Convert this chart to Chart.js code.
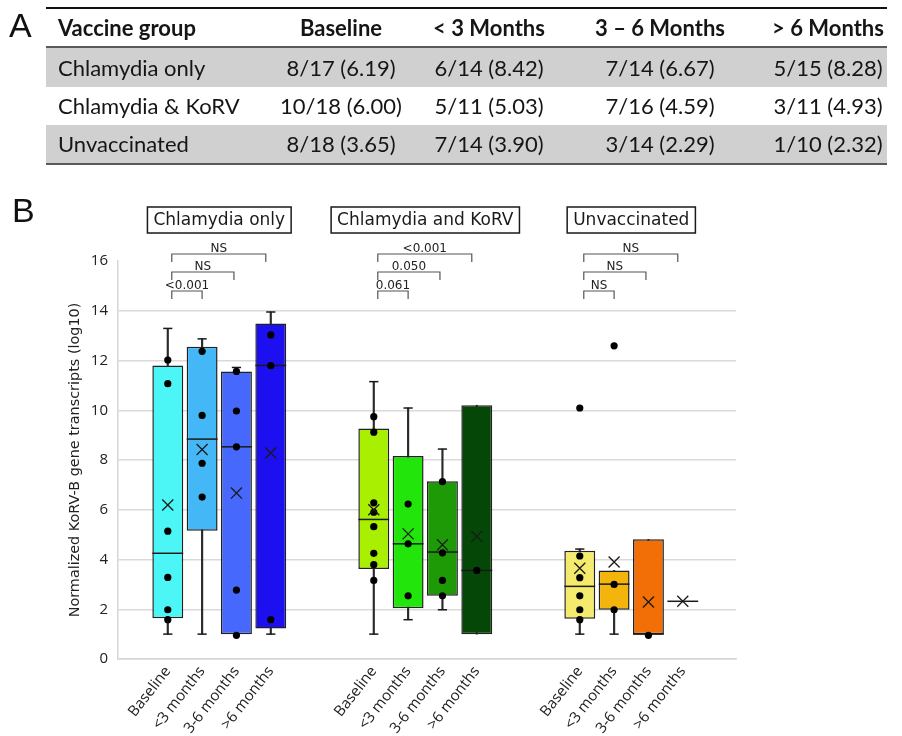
<!DOCTYPE html>
<html>
<head>
<meta charset="utf-8">
<script src="https://cdn.jsdelivr.net/npm/chart.js@4/dist/chart.umd.min.js"></script>
<style>
  html, body { margin: 0; padding: 0; background: #fff; }
  #page { position: relative; width: 902px; height: 736px; overflow: hidden; }
  #chartCanvas { position: absolute; left: 0; top: 0; }
  .letter { position: absolute; font-family: "Liberation Sans", Arial, sans-serif; font-size: 34px; color: #111; line-height: 1; }
  #tbl { position: absolute; left: 46px; top: 7px; width: 841px; height: 158px; font-family: Lato, "Open Sans", sans-serif; font-size: 22px; color: #151515; z-index: 2; }
  #tbl .rule { position: absolute; left: 0; width: 100%; }
  #tbl .band { position: absolute; left: 0; width: 100%; background: #d0d0d0; }
  #tbl .cell { position: absolute; white-space: nowrap; line-height: 1; }
</style>
</head>
<body>
<div id="page">
  <canvas id="chartCanvas" width="902" height="736"></canvas>
  <div class="letter" style="left:9px; top:8px;">A</div>
  <div class="letter" style="left:12px; top:193px;">B</div>
  <div id="tbl"></div>
</div>
<script>
// ---- data -------------------------------------------------------------
const groups = ['Chlamydia only', 'Chlamydia and KoRV', 'Unvaccinated'];
const tableGroups = ['Chlamydia only', 'Chlamydia & KoRV', 'Unvaccinated'];
const timepoints = ['Baseline', '<3 months', '3-6 months', '>6 months'];
const tableHeader = ['Vaccine group', 'Baseline', '< 3 Months', '3 \u2013 6 Months', '> 6 Months'];

// positive animals / animals sampled, and mean of positives (log10)
const positives = [[8, 6, 7, 5], [10, 5, 7, 3], [8, 7, 3, 1]];
const sampled   = [[17, 14, 14, 15], [18, 11, 16, 11], [18, 14, 14, 10]];
const means     = [[6.19, 8.42, 6.67, 8.28], [6.00, 5.03, 4.59, 4.93], [3.65, 3.90, 2.29, 2.32]];

// box-plot summaries (log10 transcripts)
const q1          = [[1.64, 5.16, 1.00, 1.23], [3.62, 2.04, 2.54, 1.00], [1.62, 1.98, 1.00, 2.32]];
const q3          = [[11.80, 12.55, 11.56, 13.49], [9.27, 8.16, 7.15, 10.20], [4.35, 3.56, 4.81, 2.32]];
const medians     = [[4.25, 8.84, 8.53, 11.80], [5.61, 4.63, 4.30, 3.56], [2.92, 3.01, 1.00, 2.32]];
const whiskerLow  = [[1.00, 1.00, 1.00, 1.00], [1.00, 1.58, 1.98, 1.00], [1.00, 1.00, 1.00, 2.32]];
const whiskerHigh = [[13.29, 12.87, 11.72, 13.95], [11.15, 10.09, 8.44, 10.20], [4.42, 3.56, 4.81, 2.32]];

// individual positive samples shown as dots
const samples = [
  [[12.02, 11.07, 5.14, 3.28, 1.98, 1.58], [12.37, 9.79, 7.87, 6.51], [11.56, 9.97, 8.53, 2.77, 0.95], [13.03, 11.79, 1.58]],
  [[9.74, 9.12, 6.28, 5.90, 5.32, 4.25, 3.79, 3.16], [6.23, 4.63, 2.54], [7.13, 4.27, 3.16, 2.54], [3.56]],
  [[10.09, 4.14, 3.27, 2.54, 1.98, 1.58], [12.59, 3.00, 1.98], [0.95], []]
];

// pairwise comparisons against baseline (p values)
const comparisons = [
  ['<0.001', 'NS', 'NS'],
  ['0.061', '0.050', '<0.001'],
  ['NS', 'NS', 'NS']
];

const boxColors = [
  ['#4cf6f6', '#44b7f6', '#4668fc', '#1c10f0'],
  ['#a9ef02', '#22e50c', '#1e9a07', '#044707'],
  ['#f3ea6e', '#f3b50c', '#f16f06', null]
];

const yTicks = [0, 2, 4, 6, 8, 10, 12, 14, 16];

// ---- table ------------------------------------------------------------
(function buildTable() {
  const tbl = document.getElementById('tbl');
  const colCenters = [null, 295, 443, 614, 782];
  const rowCenters = [20.5, 60.5, 99, 137];
  const add = (html) => tbl.insertAdjacentHTML('beforeend', html);
  add('<div class="rule" style="top:0;height:2px;background:#111"></div>');
  add('<div class="rule" style="top:39px;height:2px;background:#5a5a5a"></div>');
  add('<div class="band" style="top:41px;height:39px"></div>');
  add('<div class="band" style="top:118px;height:38px"></div>');
  add('<div class="rule" style="top:156px;height:2px;background:#5a5a5a"></div>');
  const cell = (text, col, row, bold) => {
    const x = col === 0 ? 'left:12px;' : `left:${colCenters[col]}px;transform:translate(-50%,-50%);`;
    const y = col === 0 ? `top:${rowCenters[row]}px;transform:translateY(-50%);` : `top:${rowCenters[row]}px;`;
    const el = document.createElement('div');
    el.className = 'cell';
    el.setAttribute('style', x + y + (bold ? 'font-weight:bold;' : ''));
    el.textContent = text;
    tbl.appendChild(el);
  };
  tableHeader.forEach((h, c) => cell(h, c, 0, true));
  tableGroups.forEach((name, g) => {
    cell(name, 0, g + 1, false);
    timepoints.forEach((_, t) => {
      cell(`${positives[g][t]}/${sampled[g][t]} (${means[g][t].toFixed(2)})`, t + 1, g + 1, false);
    });
  });
})();

// ---- chart ------------------------------------------------------------
const slotOf = (g, t) => 1 + g * 6 + t;
const slotLabels = {};
groups.forEach((_, g) => timepoints.forEach((tp, t) => { slotLabels[slotOf(g, t)] = tp; }));
const tickSlots = Object.keys(slotLabels).map(Number);

function collect(fn) {
  const out = [];
  groups.forEach((_, g) => timepoints.forEach((_, t) => {
    const v = fn(g, t);
    if (Array.isArray(v)) out.push(...v); else if (v) out.push(v);
  }));
  return out;
}

const boxData = collect((g, t) => boxColors[g][t] ? { x: slotOf(g, t), y: [q1[g][t], q3[g][t]] } : null);
const boxFill = collect((g, t) => boxColors[g][t]);
const stemData = collect((g, t) => whiskerHigh[g][t] > whiskerLow[g][t] ? { x: slotOf(g, t), y: [whiskerLow[g][t], whiskerHigh[g][t]] } : null);
const capData = collect((g, t) => {
  const caps = [];
  if (whiskerHigh[g][t] > q3[g][t]) caps.push({ x: slotOf(g, t), y: whiskerHigh[g][t] });
  if (whiskerLow[g][t] < q1[g][t]) caps.push({ x: slotOf(g, t), y: whiskerLow[g][t] });
  return caps;
});
const medianData = collect((g, t) => ({ x: slotOf(g, t), y: medians[g][t] }));
const meanData = collect((g, t) => ({ x: slotOf(g, t), y: means[g][t] }));
const sampleData = collect((g, t) => samples[g][t].map(v => ({ x: slotOf(g, t), y: v })));

const INK = '#1a1a1a';

const groupAnnotations = {
  id: 'groupAnnotations',
  afterDatasetsDraw(chart) {
    const { ctx, chartArea, scales: { x } } = chart;
    const top = chartArea.top;
    ctx.save();
    groups.forEach((name, g) => {
      const left = x.getPixelForValue(slotOf(g, 0));
      const right = x.getPixelForValue(slotOf(g, 3));
      const cx = (left + right) / 2;
      // boxed group title
      ctx.font = '17px "DejaVu Sans"';
      const w = ctx.measureText(name).width + 12;
      const by = top - 54;
      ctx.fillStyle = '#fff';
      ctx.fillRect(cx - w / 2, by, w, 26);
      ctx.strokeStyle = INK;
      ctx.lineWidth = 1.5;
      ctx.strokeRect(cx - w / 2, by, w, 26);
      ctx.fillStyle = INK;
      ctx.textAlign = 'center';
      ctx.textBaseline = 'middle';
      ctx.fillText(name, cx, by + 13.5);
      // significance brackets
      const levels = [top + 30, top + 11, top - 7];
      comparisons[g].forEach((label, k) => {
        const x0 = left + 4;
        const x1 = x.getPixelForValue(slotOf(g, k + 1)) + 2.5 - 2.5 * (k + 1);
        const yl = levels[k];
        ctx.strokeStyle = '#555';
        ctx.lineWidth = 1.2;
        ctx.beginPath();
        ctx.moveTo(x0, yl + 8);
        ctx.lineTo(x0, yl);
        ctx.lineTo(x1, yl);
        ctx.lineTo(x1, yl + 8);
        ctx.stroke();
        ctx.font = '12px "DejaVu Sans"';
        ctx.fillStyle = '#222';
        ctx.textBaseline = 'alphabetic';
        ctx.fillText(label, (x0 + x1) / 2, yl - 2);
      });
    });
    ctx.restore();
  }
};

new Chart(document.getElementById('chartCanvas'), {
  type: 'bar',
  data: {
    datasets: [
      {
        type: 'scatter', label: 'mean', data: meanData, order: 1,
        pointStyle: 'crossRot', pointRadius: 7.8, borderColor: INK, borderWidth: 1.3, backgroundColor: INK
      },
      {
        type: 'scatter', label: 'samples', data: sampleData, order: 2,
        pointStyle: 'circle', pointRadius: 3.6, borderWidth: 0, backgroundColor: '#000'
      },
      {
        type: 'scatter', label: 'median', data: medianData, order: 3,
        pointStyle: 'line', pointRadius: 15.4, borderColor: INK, borderWidth: 1.5
      },
      {
        type: 'scatter', label: 'whisker caps', data: capData, order: 3,
        pointStyle: 'line', pointRadius: 4.6, borderColor: INK, borderWidth: 1.5
      },
      {
        label: 'interquartile range', data: boxData, order: 4, grouped: false,
        backgroundColor: boxFill, borderColor: '#222', borderWidth: 1.5, borderSkipped: false,
        barPercentage: 0.9, categoryPercentage: 1
      },
      {
        label: 'whiskers', data: stemData, order: 5, grouped: false,
        backgroundColor: '#2a2a2a', borderWidth: 0, barThickness: 1.5
      }
    ]
  },
  options: {
    responsive: false,
    devicePixelRatio: 1,
    animation: false,
    events: [],
    layout: { padding: { left: 60, right: 166, top: 261, bottom: 0 } },
    plugins: { legend: { display: false }, tooltip: { enabled: false } },
    scales: {
      x: {
        type: 'linear', min: -0.45, max: 17.55, offset: false,
        grid: { display: false, drawTicks: false, offset: false },
        border: { color: '#d6d6d6', width: 1.5 },
        afterBuildTicks(scale) { scale.ticks = tickSlots.map(v => ({ value: v })); },
        afterFit(scale) { scale.height = 77; },
        ticks: {
          autoSkip: false, minRotation: 52, maxRotation: 52, padding: 4,
          font: { family: '"Open Sans"', size: 15 }, color: '#222',
          callback: (v) => slotLabels[v] || ''
        }
      },
      y: {
        min: 0, max: 16,
        afterBuildTicks(scale) { scale.ticks = yTicks.map(v => ({ value: v })); },
        afterFit(scale) { scale.width = 58; },
        grid: {
          drawTicks: false, lineWidth: 1.5,
          color: (c) => c.tick && c.tick.value === 16 ? 'rgba(0,0,0,0)' : '#dadada'
        },
        border: { color: '#d6d6d6', width: 1.5 },
        ticks: { padding: 10, font: { family: '"Open Sans"', size: 15 }, color: '#222' },
        title: {
          display: true, text: 'Normalized KoRV-B gene transcripts (log10)',
          font: { family: '"DejaVu Sans"', size: 14.4 }, color: '#222', padding: { top: 6.6, bottom: 0 }
        }
      }
    }
  },
  plugins: [groupAnnotations]
});
</script>
</body>
</html>
